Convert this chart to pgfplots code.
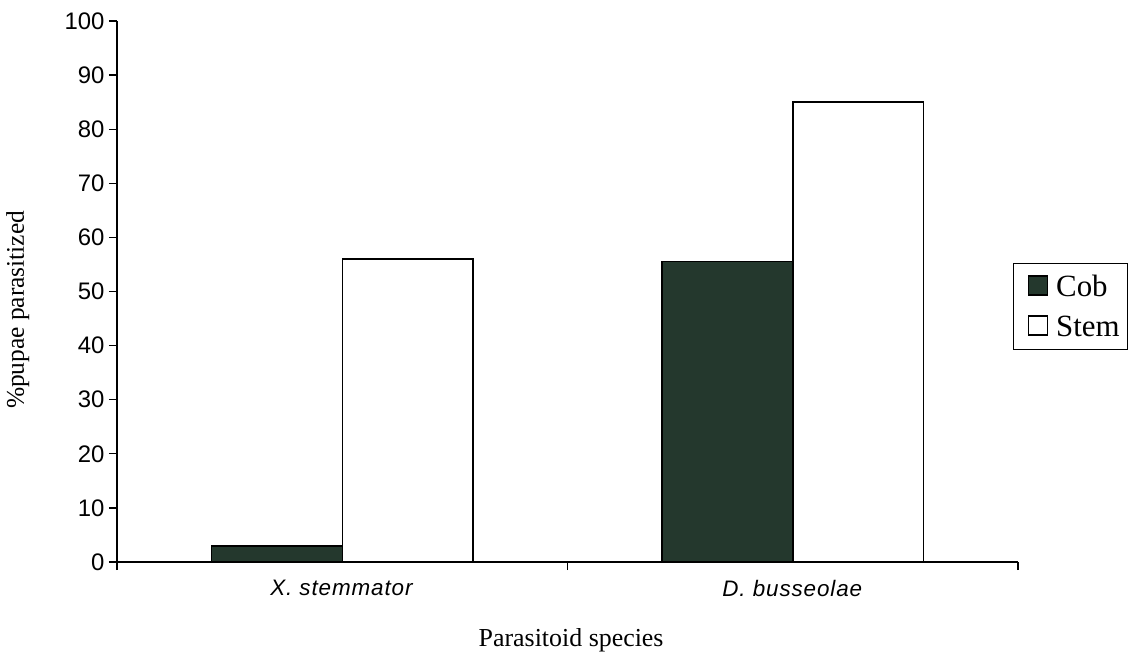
\documentclass[border=0pt]{standalone}
\usepackage{fontspec}
\setmainfont{Liberation Serif}
\newfontfamily\arial{Liberation Sans}
\newfontfamily\arialsp[LetterSpace=4]{Liberation Sans}
\usepackage{pgfplots}
\pgfplotsset{compat=1.18}
\definecolor{cobgreen}{HTML}{24382D}
\begin{document}
\begin{tikzpicture}
\begin{axis}[
  at={(0bp,0bp)}, anchor=south west,
  scale only axis, width=901bp, height=541bp,
  xmin=-0.5, xmax=1.5, ymin=0, ymax=100,
  axis lines*=left,
  axis line style={line width=1.3bp, black},
  tick align=outside,
  major tick length=8bp,
  tick style={line width=1.2bp, black},
  ytick={0,10,...,100},
  /pgf/number format/assume math mode=true,
  yticklabel style={font=\arial\fontsize{24}{28}\selectfont, xshift=-1bp},
  xtick={-0.5,0.5,1.5},
  xticklabels={},
  extra x ticks={0,1},
  extra x tick labels={\textit{X. stemmator}, \textit{D. busseolae}},
  extra x tick style={major tick length=0bp, grid=none,
    xticklabel style={font=\arialsp\fontsize{22.5}{26}\selectfont, yshift=-15bp}},
  ylabel={\%pupae parasitized},
  ylabel style={at={(axis description cs:-0.11,0.466)}, anchor=center, rotate=0,
    font=\fontsize{25.5}{30}\selectfont},
  xlabel={Parasitoid species},
  xlabel style={at={(axis description cs:0.504,-0.144)}, anchor=center,
    font=\fontsize{26}{30}\selectfont},
  legend style={at={(0.9945,0.473)}, anchor=west, draw=black, line width=1.2bp,
    font=\fontsize{31}{36}\selectfont, inner xsep=7bp, inner ysep=9bp,
    row sep=12bp,
    nodes={text height=21bp, text depth=1bp, inner ysep=3bp, inner xsep=1bp}},
  legend cell align=left,
  legend image code/.code={\path (0bp,0bp);
    \draw[#1, line width=1.3bp] (7bp,-9bp) rectangle (26bp,10bp);
    \path (33bp,0bp);},
]
\addplot[ybar, bar width=0.29, bar shift=-0.145, fill=cobgreen, draw=black, line width=1.5bp]
  coordinates {(0,3) (1,55.5)};
\addlegendentry{Cob}
\addplot[ybar, bar width=0.29, bar shift=0.145, fill=white, draw=black, line width=1.5bp]
  coordinates {(0,56) (1,85)};
\addlegendentry{Stem}
\end{axis}
\pgfresetboundingbox
\path (-117bp,-102bp) rectangle (1012bp,562bp);
\end{tikzpicture}
\end{document}
